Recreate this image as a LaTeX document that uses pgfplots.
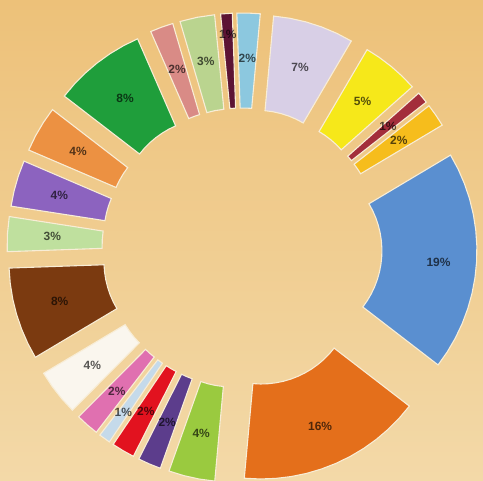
\documentclass[border=0pt]{standalone}
\usepackage{pgfplots}
\pgfplotsset{compat=1.18}
\usepgfplotslibrary{polar}
\usepackage{fontspec}
\setmainfont{Liberation Sans}

\definecolor{bgtop}{HTML}{EDC179}
\definecolor{bgbot}{HTML}{F3D9A8}
\definecolor{edge}{HTML}{F8EDD6}
\definecolor{c1}{HTML}{8CC8DF}
\definecolor{c2}{HTML}{D8CFE6}
\definecolor{c3}{HTML}{F6E81A}
\definecolor{c4}{HTML}{A32E3B}
\definecolor{c5}{HTML}{F6BD1C}
\definecolor{c6}{HTML}{5A8FD0}
\definecolor{c7}{HTML}{E46F1B}
\definecolor{c8}{HTML}{9ACA3F}
\definecolor{c9}{HTML}{5C3D8C}
\definecolor{c10}{HTML}{E2121F}
\definecolor{c11}{HTML}{C5DAEA}
\definecolor{c12}{HTML}{E070B0}
\definecolor{c13}{HTML}{FAF6EE}
\definecolor{c14}{HTML}{7B3A10}
\definecolor{c15}{HTML}{BFE09E}
\definecolor{c16}{HTML}{8C63BF}
\definecolor{c17}{HTML}{EC9142}
\definecolor{c18}{HTML}{1F9E3B}
\definecolor{c19}{HTML}{D98B86}
\definecolor{c20}{HTML}{BAD48F}
\definecolor{c21}{HTML}{5C1434}

% each slice: outer arc (r=187) then inner arc (r=92), angles in degrees,
% pulled out 48bp along its bisector
\pgfplotsset{slice/.style={draw=edge, line width=1.1bp, data cs=polar}}

\begin{document}
\begin{tikzpicture}
\begin{axis}[
    x=1bp, y=1bp,
    xmin=-242, xmax=241,
    ymin=-233, ymax=248,
    scale only axis,
    hide axis,
  ]
  \fill[top color=bgtop, bottom color=bgbot] (rel axis cs:0,0) rectangle (rel axis cs:1,1);

  % 2%
  \addplot[slice, fill=c1, xshift=1.34bp, yshift=47.98bp] coordinates {
    (92,187) (88.4,187) (84.8,187) (84.8,92) (88.4,92) (92,92)} -- cycle;
  % 7%
  \addplot[slice, fill=c2, xshift=14.67bp, yshift=45.70bp] coordinates {
    (84.8,187) (79.8,187) (74.7,187) (69.7,187) (64.6,187) (59.6,187)
    (59.6,92) (64.6,92) (69.7,92) (74.7,92) (79.8,92) (84.8,92)} -- cycle;
  % 5%
  \addplot[slice, fill=c3, xshift=30.47bp, yshift=37.09bp] coordinates {
    (59.6,187) (55.1,187) (50.6,187) (46.1,187) (41.6,187)
    (41.6,92) (46.1,92) (50.6,92) (55.1,92) (59.6,92)} -- cycle;
  % 1%
  \addplot[slice, fill=c4, xshift=36.88bp, yshift=30.72bp] coordinates {
    (41.6,187) (39.8,187) (38,187) (38,92) (39.8,92) (41.6,92)} -- cycle;
  % 2%
  \addplot[slice, fill=c5, xshift=39.60bp, yshift=27.12bp] coordinates {
    (38,187) (34.4,187) (30.8,187) (30.8,92) (34.4,92) (38,92)} -- cycle;
  % 19%
  \addplot[slice, fill=c6, xshift=47.92bp, yshift=-2.85bp] coordinates {
    (30.8,187) (25.91,187) (21.03,187) (16.14,187) (11.26,187) (6.37,187)
    (1.48,187) (-3.4,187) (-8.29,187) (-13.17,187) (-18.06,187) (-22.95,187)
    (-27.83,187) (-32.72,187) (-37.6,187)
    (-37.6,92) (-32.72,92) (-27.83,92) (-22.95,92) (-18.06,92) (-13.17,92)
    (-8.29,92) (-3.4,92) (1.48,92) (6.37,92) (11.26,92) (16.14,92)
    (21.03,92) (25.91,92) (30.8,92)} -- cycle;
  % 16%
  \addplot[slice, fill=c7, xshift=19.22bp, yshift=-43.99bp] coordinates {
    (-37.6,187) (-42.4,187) (-47.2,187) (-52,187) (-56.8,187) (-61.6,187)
    (-66.4,187) (-71.2,187) (-76,187) (-80.8,187) (-85.6,187) (-90.4,187)
    (-95.2,187)
    (-95.2,92) (-90.4,92) (-85.6,92) (-80.8,92) (-76,92) (-71.2,92)
    (-66.4,92) (-61.6,92) (-56.8,92) (-52,92) (-47.2,92) (-42.4,92)
    (-37.6,92)} -- cycle;
  % 4%
  \addplot[slice, fill=c8, xshift=-10.31bp, yshift=-46.88bp] coordinates {
    (-95.2,187) (-100,187) (-104.8,187) (-109.6,187)
    (-109.6,92) (-104.8,92) (-100,92) (-95.2,92)} -- cycle;
  % 2%
  \addplot[slice, fill=c9, xshift=-18.91bp, yshift=-44.12bp] coordinates {
    (-109.6,187) (-113.2,187) (-116.8,187) (-116.8,92) (-113.2,92) (-109.6,92)} -- cycle;
  % 2%
  \addplot[slice, fill=c10, xshift=-24.29bp, yshift=-41.40bp] coordinates {
    (-116.8,187) (-120.4,187) (-124,187) (-124,92) (-120.4,92) (-116.8,92)} -- cycle;
  % 1%
  \addplot[slice, fill=c11, xshift=-28.08bp, yshift=-38.93bp] coordinates {
    (-124,187) (-127.6,187) (-127.6,92) (-124,92)} -- cycle;
  % 2%
  \addplot[slice, fill=c12, xshift=-31.62bp, yshift=-36.12bp] coordinates {
    (-127.6,187) (-131.2,187) (-134.8,187) (-134.8,92) (-131.2,92) (-127.6,92)} -- cycle;
  % 4%
  \addplot[slice, fill=c13, xshift=-37.82bp, yshift=-29.55bp] coordinates {
    (-134.8,187) (-139.6,187) (-144.4,187) (-149.2,187)
    (-149.2,92) (-144.4,92) (-139.6,92) (-134.8,92)} -- cycle;
  % 8%
  \addplot[slice, fill=c14, xshift=-46.05bp, yshift=-13.55bp] coordinates {
    (-149.2,187) (-154,187) (-158.8,187) (-163.6,187) (-168.4,187) (-173.2,187) (-178,187)
    (-178,92) (-173.2,92) (-168.4,92) (-163.6,92) (-158.8,92) (-154,92) (-149.2,92)} -- cycle;
  % 3%
  \addplot[slice, fill=c15, xshift=-47.92bp, yshift=2.85bp] coordinates {
    (-178,187) (-183.4,187) (-188.8,187) (-188.8,92) (-183.4,92) (-178,92)} -- cycle;
  % 4%
  \addplot[slice, fill=c16, xshift=-46.14bp, yshift=13.23bp] coordinates {
    (-188.8,187) (-193.6,187) (-198.4,187) (-203.2,187)
    (-203.2,92) (-198.4,92) (-193.6,92) (-188.8,92)} -- cycle;
  % 4%
  \addplot[slice, fill=c17, xshift=-41.40bp, yshift=24.29bp] coordinates {
    (-203.2,187) (-208,187) (-212.8,187) (-217.6,187)
    (-217.6,92) (-212.8,92) (-208,92) (-203.2,92)} -- cycle;
  % 8%
  \addplot[slice, fill=c18, xshift=-29.55bp, yshift=37.82bp] coordinates {
    (-217.6,187) (-222.4,187) (-227.2,187) (-232,187) (-236.8,187) (-241.6,187) (-246.4,187)
    (-246.4,92) (-241.6,92) (-236.8,92) (-232,92) (-227.2,92) (-222.4,92) (-217.6,92)} -- cycle;
  % 2%
  \addplot[slice, fill=c19, xshift=-16.42bp, yshift=45.11bp] coordinates {
    (-246.4,187) (-250,187) (-253.6,187) (-253.6,92) (-250,92) (-246.4,92)} -- cycle;
  % 3%
  \addplot[slice, fill=c20, xshift=-9.16bp, yshift=47.12bp] coordinates {
    (-253.6,187) (-259,187) (-264.4,187) (-264.4,92) (-259,92) (-253.6,92)} -- cycle;
  % 1%
  \addplot[slice, fill=c21, xshift=-3.18bp, yshift=47.89bp] coordinates {
    (-264.4,187) (-268,187) (-268,92) (-264.4,92)} -- cycle;

  % percentage labels
  \addplot[draw=none, mark=none, data cs=polar,
      nodes near coords, point meta=explicit symbolic,
      every node near coord/.style={anchor=center, text=black, text opacity=0.65,
        font=\bfseries\fontsize{12}{14}\selectfont}]
    coordinates {
    (88.4,190) [2\%]
    (72.2,190) [7\%]
    (50.6,190) [5\%]
    (39.8,190) [1\%]
    (34.4,190) [2\%]
    (-4.2,197) [19\%]
    (-66.4,195) [16\%]
    (-102.4,190) [4\%]
    (-113.2,190) [2\%]
    (-120.4,190) [2\%]
    (-125.8,203) [1\%]
    (-131.2,190) [2\%]
    (-142,190) [4\%]
    (-163.6,190) [8\%]
    (-183.4,190) [3\%]
    (-196,190) [4\%]
    (-210.4,190) [4\%]
    (-232,190) [8\%]
    (-250,190) [2\%]
    (-259,190) [3\%]
    (-266.2,214) [1\%]
    };
\end{axis}
\end{tikzpicture}
\end{document}
